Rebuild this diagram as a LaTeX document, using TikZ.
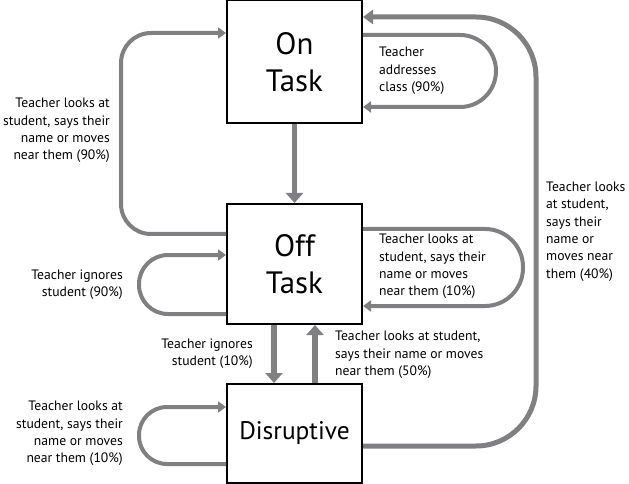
\documentclass[tikz,border=0pt]{standalone}
\usepackage{fontspec}
\setmainfont{PT Sans}
\usepackage{tikz}
\usetikzlibrary{arrows.meta,positioning,calc}

\definecolor{arrowgray}{RGB}{128,128,130}

\begin{document}
\begin{tikzpicture}[
    x=1bp, y=-1bp,
    state/.style={rectangle, draw, line width=2bp, minimum width=135bp, align=center,
                  font=\fontsize{31}{37}\selectfont, inner sep=0pt},
    thinarrow/.style={draw=arrowgray, line width=4bp, -{Triangle[length=8bp, width=11bp]}},
    thickarrow/.style={draw=arrowgray, line width=5.5bp, -{Triangle[length=10bp, width=17bp]}},
    lbl/.style={font=\fontsize{13.7}{17.5}\selectfont, inner sep=0pt}
]
\useasboundingbox (0,0) rectangle (629,484);

% States
\node[state, minimum height=123bp] (on) at (294.5, 62) {On\\Task};
\node[state, minimum height=120bp] (off) at (294.5, 264) {Off\\Task};
\node[state, minimum height=99bp, font=\fontsize{25.5}{30}\selectfont] (dis) at (294.5, 433.5) {Disruptive};

% Straight transitions
\draw[thickarrow] (on.south) -- (off.north);
\draw[thickarrow] ([xshift=-20.5bp]off.south) -- ([xshift=-20.5bp]dis.north);
\draw[thickarrow] ([xshift=20.5bp]dis.north) -- ([xshift=20.5bp]off.south);

% Loops back to On Task
\draw[thinarrow, rounded corners=30bp] ([yshift=30bp]off.west) -- ++(-105,0) |- ([yshift=29bp]on.west);
\draw[thinarrow, rounded corners=36bp] ([yshift=27bp]on.east) -- ++(133,0) |- ([yshift=-45bp]on.east);
\draw[thickarrow, line width=5bp, -{Triangle[length=10bp, width=14bp]}, rounded corners=60bp]
    ([yshift=-12.5bp]dis.east) -- ++(173,0) |- ([yshift=45bp]on.east);

% Self loops
\draw[thinarrow, rounded corners=38bp] ([yshift=35bp]off.east) -- ++(160,0) |- ([yshift=-42bp]off.east);
\draw[thinarrow, rounded corners=29bp] ([yshift=-50bp]off.west) -- ++(-87,0) |- ([yshift=9bp]off.west);
\draw[thinarrow, rounded corners=28bp] ([yshift=-30.5bp]dis.west) -- ++(-87,0) |- ([yshift=26.5bp]dis.west);

% Labels
\node[lbl, anchor=east, align=right] (l1) at (110, 130.5) {Teacher looks at\\student, says their\\name or moves\\near them (90\%)};
\node[lbl, anchor=west, align=left] (l2) at (379, 71) {Teacher\\addresses\\class (90\%)};
\node[lbl, anchor=west, align=left] (l3) at (546, 231.5) {Teacher looks\\at student,\\says their\\name or\\moves near\\them (40\%)};
\node[lbl, anchor=west, align=left] (l4) at (379, 266.5) {Teacher looks at\\student, says their\\name or moves\\near them (10\%)};
\node[lbl, anchor=east, align=right] (l5) at (123, 284.5) {Teacher ignores\\student (90\%)};
\node[lbl, anchor=east, align=right] (l6) at (253, 353.5) {Teacher ignores\\student (10\%)};
\node[lbl, anchor=west, align=left] (l7) at (335, 355) {Teacher looks at student,\\says their name or moves\\near them (50\%)};
\node[lbl, anchor=east, align=right] (l8) at (123, 433.5) {Teacher looks at\\student, says their\\name or moves\\near them (10\%)};

\end{tikzpicture}
\end{document}
